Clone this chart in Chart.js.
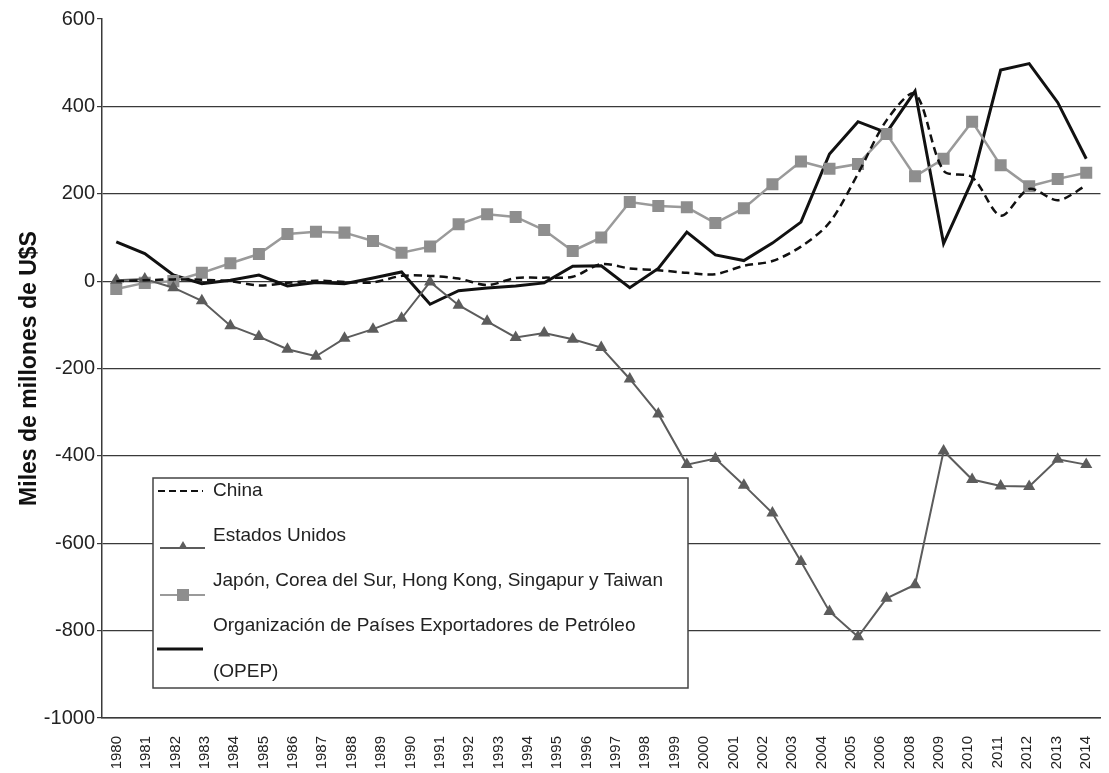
<!DOCTYPE html>
<html lang="es">
<head>
<meta charset="utf-8">
<title>Saldo en cuenta corriente</title>
<script src="https://cdn.jsdelivr.net/npm/chart.js@4.4.1/dist/chart.umd.min.js"></script>
<style>
  html, body { margin: 0; padding: 0; background: #fff; }
</style>
</head>
<body>
<canvas id="chart" width="1109" height="773"></canvas>
<script>
// years of the data (35 points)
const years = ["1980", "1981", "1982", "1983", "1984", "1985", "1986", "1987", "1988", "1989",
    "1990", "1991", "1992", "1993", "1994", "1995", "1996", "1997", "1998", "1999",
    "2000", "2001", "2002", "2003", "2004", "2005", "2006", "2007", "2008", "2009",
    "2010", "2011", "2012", "2013", "2014"];

// labels printed under the axis (the original skips 2007)
const axisLabels = ["1980", "1981", "1982", "1983", "1984", "1985", "1986", "1987", "1988", "1989",
    "1990", "1991", "1992", "1993", "1994", "1995", "1996", "1997", "1998", "1999",
    "2000", "2001", "2002", "2003", "2004", "2005", "2006", "2008", "2009",
    "2010", "2011", "2012", "2013", "2014"];

const china = [0, 2, 4, 3, 0, -10, -4, 1, -2, -3, 12, 12, 6, -9, 7, 8, 10, 39, 29, 25,
    19, 16, 35, 46, 79, 134, 246, 368, 429, 253, 238, 150, 211, 185, 219];

const estadosUnidos = [2, 5, -15, -45, -102, -127, -156, -172, -131, -110, -85, -2, -55, -92, -129, -119, -133, -152, -224, -304,
    -420, -406, -467, -531, -642, -756, -814, -726, -695, -389, -454, -469, -470, -408, -420];

const asiaNics = [-18, -4, 0, 19, 41, 62, 108, 113, 111, 92, 65, 79, 130, 153, 147, 117, 69, 100, 181, 172,
    169, 133, 167, 222, 274, 257, 268, 337, 240, 280, 365, 265, 217, 234, 248];

const opep = [90, 63, 14, -6, 2, 14, -11, -3, -6, 7, 21, -53, -22, -16, -11, -4, 34, 35, -15, 29,
    112, 60, 47, 87, 135, 291, 365, 340, 435, 86, 230, 483, 498, 409, 280];

const legendLines = [
    ["China"],
    ["Estados Unidos"],
    ["Japón, Corea del Sur, Hong Kong, Singapur y Taiwan"],
    ["Organización de Países Exportadores de Petróleo", "(OPEP)"]
];

const NARROW = "'Liberation Sans Narrow', 'Arial Narrow', 'Liberation Sans', Arial, sans-serif";
const GRID = "#3a3a3a";

// legend drawn inside the plot, like the original box
const legendBox = {
    id: "legendBox",
    afterDatasetsDraw(chart) {
        const ctx = chart.ctx;
        const a = chart.chartArea;
        const x = a.left + 51, y = a.top + 459, w = 535, h = 210;
        ctx.save();
        ctx.fillStyle = "#fff";
        ctx.fillRect(x, y, w, h);
        ctx.strokeStyle = "#444";
        ctx.lineWidth = 1.5;
        ctx.strokeRect(x, y, w, h);

        ctx.font = "19px " + NARROW;
        ctx.fillStyle = "#222";
        ctx.textBaseline = "middle";
        const tx = x + 60;
        ctx.fillText(legendLines[0][0], tx, y + 13);
        ctx.fillText(legendLines[1][0], tx, y + 58);
        ctx.fillText(legendLines[2][0], tx, y + 103);
        ctx.fillText(legendLines[3][0], tx, y + 148);
        ctx.fillText(legendLines[3][1], tx, y + 194);

        const sets = chart.data.datasets;
        // China
        ctx.beginPath();
        ctx.setLineDash([7, 4]);
        ctx.strokeStyle = sets[0].borderColor;
        ctx.lineWidth = 2;
        ctx.moveTo(x + 5, y + 13);
        ctx.lineTo(x + 50, y + 13);
        ctx.stroke();
        ctx.setLineDash([]);
        // Estados Unidos
        ctx.beginPath();
        ctx.strokeStyle = sets[1].borderColor;
        ctx.lineWidth = 2;
        ctx.moveTo(x + 7, y + 70);
        ctx.lineTo(x + 52, y + 70);
        ctx.stroke();
        ctx.fillStyle = sets[1].pointBackgroundColor;
        Chart.helpers.drawPoint(ctx, { pointStyle: "triangle", radius: 5, rotation: 0, borderWidth: 0 }, x + 30, y + 68);
        // Asia
        ctx.beginPath();
        ctx.strokeStyle = sets[2].borderColor;
        ctx.lineWidth = 2;
        ctx.moveTo(x + 7, y + 117);
        ctx.lineTo(x + 52, y + 117);
        ctx.stroke();
        ctx.fillStyle = sets[2].pointBackgroundColor;
        ctx.fillRect(x + 24, y + 111, 12, 12);
        // OPEP
        ctx.beginPath();
        ctx.strokeStyle = sets[3].borderColor;
        ctx.lineWidth = 3;
        ctx.moveTo(x + 4, y + 171);
        ctx.lineTo(x + 50, y + 171);
        ctx.stroke();
        ctx.restore();
    }
};

new Chart(document.getElementById("chart"), {
    type: "line",
    data: {
        labels: years,
        datasets: [
            {
                label: "China",
                data: china,
                borderColor: "#111",
                borderWidth: 2.5,
                borderDash: [8, 5],
                pointRadius: 0,
                tension: 0.3
            },
            {
                label: "Estados Unidos",
                data: estadosUnidos,
                borderColor: "#5c5c5c",
                borderWidth: 2,
                pointStyle: "triangle",
                pointRadius: 7,
                pointBackgroundColor: "#5c5c5c",
                pointBorderColor: "#5c5c5c",
                pointBorderWidth: 0
            },
            {
                label: "Japón, Corea del Sur, Hong Kong, Singapur y Taiwan",
                data: asiaNics,
                borderColor: "#9a9a9a",
                borderWidth: 2.5,
                pointStyle: "rect",
                pointRadius: 8.5,
                pointBackgroundColor: "#8e8e8e",
                pointBorderColor: "#8e8e8e",
                pointBorderWidth: 0
            },
            {
                label: "Organización de Países Exportadores de Petróleo (OPEP)",
                data: opep,
                borderColor: "#111",
                borderWidth: 3,
                pointRadius: 0
            }
        ]
    },
    options: {
        responsive: false,
        animation: false,
        layout: { padding: { top: 19, right: 6, left: 0, bottom: 0 } },
        plugins: {
            legend: { display: false },
            tooltip: { enabled: false }
        },
        scales: {
            x: {
                type: "category",
                labels: years,
                offset: true,
                display: false
            },
            x2: {
                type: "category",
                labels: axisLabels,
                offset: true,
                position: "bottom",
                grid: { display: false },
                border: { display: true, color: GRID, width: 1.5 },
                ticks: {
                    autoSkip: false,
                    minRotation: 90,
                    maxRotation: 90,
                    padding: 10,
                    color: "#222",
                    font: { family: NARROW, size: 15 }
                },
                afterFit(scale) {
                    scale.height = 55;
                    scale.paddingLeft = 0;
                    scale.paddingRight = 0;
                }
            },
            y: {
                min: -1000,
                max: 600,
                ticks: {
                    stepSize: 200,
                    padding: 2,
                    color: "#222",
                    font: { family: NARROW, size: 20 },
                    callback: (v) => String(v)
                },
                grid: {
                    color: (c) => (c.tick && c.tick.value === 600) ? "rgba(0,0,0,0)" : GRID,
                    lineWidth: 1.2,
                    tickLength: 5,
                    tickColor: GRID
                },
                border: { display: true, color: GRID, width: 1.5 },
                title: {
                    display: true,
                    text: "Miles de millones de U$S",
                    color: "#111",
                    font: { family: NARROW, size: 23, weight: "bold" },
                    padding: { top: 16, bottom: 0 }
                },
                afterFit(scale) { scale.width = 102; }
            }
        }
    },
    plugins: [legendBox]
});
</script>
</body>
</html>
